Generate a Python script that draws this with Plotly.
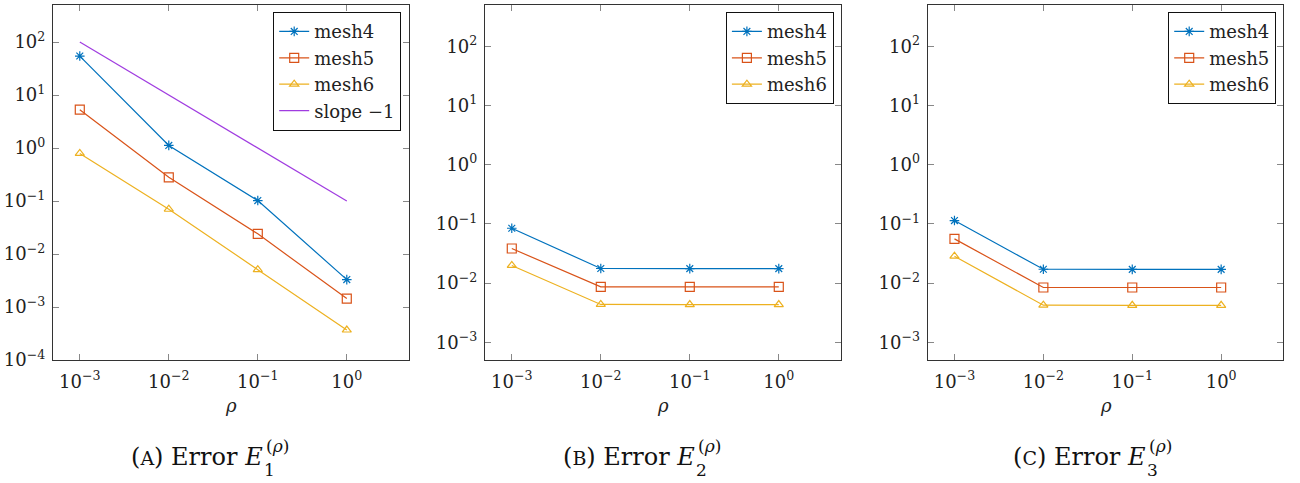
import plotly.graph_objects as go
import math

# ---------------- data ----------------
rho = [1e-3, 1e-2, 1e-1, 1e0]

# Panel A: Error E1
e1_mesh4 = [54.4, 1.12, 0.102, 3.29e-3]
e1_mesh5 = [5.3, 0.28, 0.024, 1.44e-3]
e1_mesh6 = [0.79, 0.070, 5.07e-3, 3.68e-4]
slope_ref = [100, 10, 1, 0.1]

# Panel B: Error E2
e2_mesh4 = [0.0843, 0.0176, 0.0175, 0.0175]
e2_mesh5 = [0.0383, 0.0086, 0.0086, 0.0086]
e2_mesh6 = [0.0198, 0.00434, 0.00432, 0.00432]

# Panel C: Error E3
e3_mesh4 = [0.1137, 0.0171, 0.0170, 0.0170]
e3_mesh5 = [0.0557, 0.0084, 0.0084, 0.0084]
e3_mesh6 = [0.0284, 0.00422, 0.00420, 0.00420]

x_tickvals = [1e-3, 1e-2, 1e-1, 1e0]
x_ticktext = ["10<sup>−3</sup>", "10<sup>−2</sup>", "10<sup>−1</sup>", "10<sup>0</sup>"]
yA_tickvals = [1e-4, 1e-3, 1e-2, 1e-1, 1e0, 1e1, 1e2]
yA_ticktext = ["10<sup>−4</sup>", "10<sup>−3</sup>", "10<sup>−2</sup>", "10<sup>−1</sup>",
               "10<sup>0</sup>", "10<sup>1</sup>", "10<sup>2</sup>"]
yBC_tickvals = [1e-3, 1e-2, 1e-1, 1e0, 1e1, 1e2]
yBC_ticktext = ["10<sup>−3</sup>", "10<sup>−2</sup>", "10<sup>−1</sup>",
                "10<sup>0</sup>", "10<sup>1</sup>", "10<sup>2</sup>"]

series_names = ["mesh4", "mesh5", "mesh6"]
slope_name = "slope −1"
captions = [("A", "1"), ("B", "2"), ("C", "3")]

# ---------------- style ----------------
W, H = 1300, 483
FONT = "DejaVu Serif"
C_BLUE = "#0072BD"
C_ORANGE = "#D95319"
C_YELLOW = "#EDB120"
C_PURPLE = "#A03CE0"
colors = [C_BLUE, C_ORANGE, C_YELLOW]
symbols = ["asterisk-open", "square-open", "triangle-up-open"]
msizes = [8, 9, 8]

panels_px = [(53, 409), (485, 841), (927.7, 1283.3)]
top_px, bot_px = 5, 360

def px_x(p):
    return p / W

def px_y(p):
    return 1 - p / H

fig = go.Figure()

data_sets = [
    [e1_mesh4, e1_mesh5, e1_mesh6],
    [e2_mesh4, e2_mesh5, e2_mesh6],
    [e3_mesh4, e3_mesh5, e3_mesh6],
]

for k, ds in enumerate(data_sets):
    xa = "x" if k == 0 else f"x{k+1}"
    ya = "y" if k == 0 else f"y{k+1}"
    lg = "legend" if k == 0 else f"legend{k+1}"
    for name, vals, col, sym, ms in zip(series_names, ds, colors, symbols, msizes):
        fig.add_trace(go.Scatter(
            x=rho, y=vals, name=name, mode="lines+markers",
            line=dict(color=col, width=1.2),
            marker=dict(symbol=sym, size=ms, color=col, line=dict(color=col, width=1.2)),
            xaxis=xa, yaxis=ya, legend=lg,
        ))
    if k == 0:
        fig.add_trace(go.Scatter(
            x=rho, y=slope_ref, name=slope_name, mode="lines",
            line=dict(color=C_PURPLE, width=1.2),
            xaxis=xa, yaxis=ya, legend=lg,
        ))

xrange = [math.log10(5e-4), math.log10(5)]
yranges = [[-4, math.log10(500)], [math.log10(5e-4), math.log10(500)], [math.log10(5e-4), math.log10(500)]]

axis_common = dict(
    type="log", showgrid=False, zeroline=False, automargin=False,
    showline=True, linecolor="#333333", linewidth=1.2, mirror="ticks",
    ticks="inside", ticklen=6, tickwidth=1, tickcolor="#888888",
    tickfont=dict(family=FONT, size=18, color="#222222"),
)

layout = dict(
    width=W, height=H,
    margin=dict(l=0, r=0, t=0, b=0, autoexpand=False),
    paper_bgcolor="white", plot_bgcolor="white",
    font=dict(family=FONT, color="#222222"),
    showlegend=True,
)

for k, (l, r) in enumerate(panels_px):
    xk = "xaxis" if k == 0 else f"xaxis{k+1}"
    yk = "yaxis" if k == 0 else f"yaxis{k+1}"
    anchor_x = "y" if k == 0 else f"y{k+1}"
    anchor_y = "x" if k == 0 else f"x{k+1}"
    layout[xk] = dict(axis_common, domain=[px_x(l), px_x(r)], range=xrange,
                      tickvals=x_tickvals, ticktext=x_ticktext, anchor=anchor_x,
                      ticklabelstandoff=5)
    if k == 0:
        tv, tt = yA_tickvals, yA_ticktext
    else:
        tv, tt = yBC_tickvals, yBC_ticktext
    layout[yk] = dict(axis_common, domain=[px_y(bot_px), px_y(top_px)], range=yranges[k],
                      tickvals=tv, ticktext=tt, anchor=anchor_y, ticklabelstandoff=3)

legend_right = [401, 833.7, 1276]
for k, rx in enumerate(legend_right):
    key = "legend" if k == 0 else f"legend{k+1}"
    layout[key] = dict(
        xanchor="right", yanchor="top",
        bordercolor="#111111", borderwidth=1.2, bgcolor="white",
        font=dict(family=FONT, size=18, color="#222222"),
        itemwidth=30, tracegroupgap=0,
        x=px_x(rx), y=px_y(12), xref="paper", yref="paper")

fig.update_layout(**layout)

annotations = []
for (l, r) in panels_px:
    annotations.append(dict(
        x=px_x((l + r) / 2), y=px_y(405), xref="paper", yref="paper",
        text="<i>ρ</i>", showarrow=False, font=dict(family=FONT, size=18, color="#222222"),
        xanchor="center", yanchor="middle",
    ))

cap_E_end = [265, 697, 1148]
for (letter, sub), ex in zip(captions, cap_E_end):
    annotations.append(dict(
        x=px_x(ex), y=px_y(457), xref="paper", yref="paper",
        text=f"(<span style='font-size:19px'>{letter}</span>) Error <i>E</i>",
        showarrow=False, font=dict(family=FONT, size=24, color="#111111"),
        xanchor="right", yanchor="middle",
    ))
    annotations.append(dict(
        x=px_x(ex - 3), y=px_y(470), xref="paper", yref="paper",
        text=sub, showarrow=False, font=dict(family=FONT, size=17, color="#111111"),
        xanchor="left", yanchor="middle",
    ))
    annotations.append(dict(
        x=px_x(ex - 1), y=px_y(446), xref="paper", yref="paper",
        text="(<i>ρ</i>)", showarrow=False, font=dict(family=FONT, size=17, color="#111111"),
        xanchor="left", yanchor="middle",
    ))

fig.update_layout(annotations=annotations)

fig.write_html("out.html", config={"displayModeBar": False},
               post_script="document.body.style.margin='0px';")
